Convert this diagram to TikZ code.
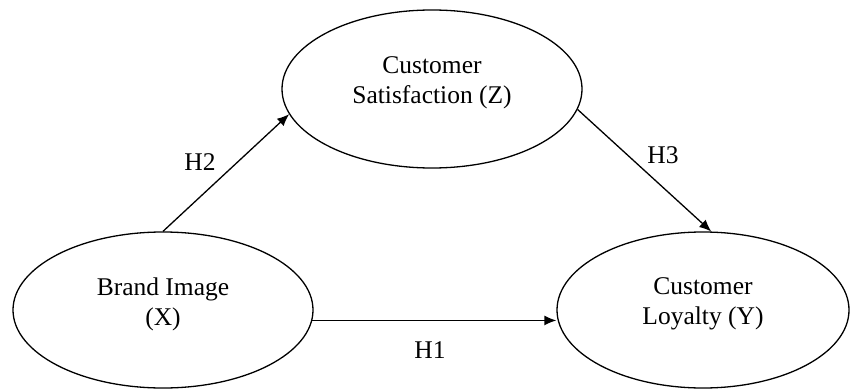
\documentclass[tikz,border=0pt]{standalone}
\usepackage{fontspec}
\setmainfont{Liberation Serif}
\usetikzlibrary{arrows.meta,shapes.geometric}
\begin{document}
\begin{tikzpicture}[x=1pt,y=-1pt,
  oval/.style={draw,ellipse,line width=1.3pt,inner sep=0pt},
  txt/.style={align=center,inner sep=0pt,font=\fontsize{25.5}{30}\selectfont},
  arr/.style={-{Latex[length=12pt,width=10pt]},line width=1.3pt},
  hyp/.style={inner sep=0pt,font=\fontsize{25.5}{30}\selectfont}]
\useasboundingbox (0,0) rectangle (850,390);
\node[oval,minimum width=300pt,minimum height=158pt] (Z) at (432,89) {};
\node[oval,minimum width=300pt,minimum height=156pt] (X) at (163,310) {};
\node[oval,minimum width=292pt,minimum height=156pt] (Y) at (703,310) {};
\node[txt] (Zt) at ([yshift=6pt]Z.center) {Customer\\Satisfaction (Z)};
\node[txt] (Xt) at ([yshift=6pt]X.center) {Brand Image\\(X)};
\node[txt] (Yt) at ([yshift=6pt]Y.center) {Customer\\Loyalty (Y)};
\draw[arr] (X.north) -- (Z.190);
\draw[arr] (Z.-8) -- (Y.84);
\draw[arr] (X.356) -- (X.356 -| Y.west);
\node[hyp] (h2) at (200,162) {H2};
\node[hyp] (h3) at (663,155) {H3};
\node[hyp] (h1) at (430,350) {H1};
\end{tikzpicture}
\end{document}
